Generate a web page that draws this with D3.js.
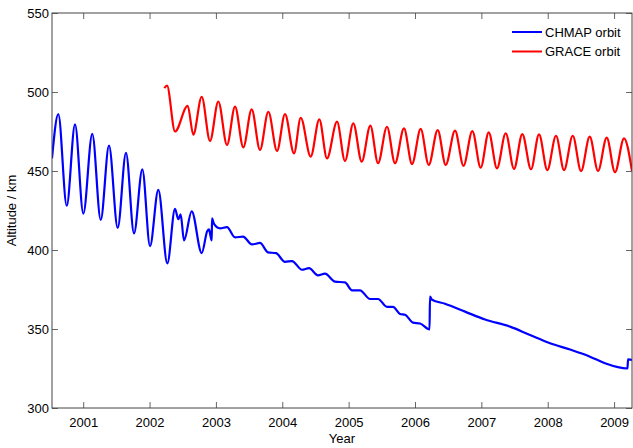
<!DOCTYPE html>
<html><head><meta charset="utf-8">
<script src="https://cdn.jsdelivr.net/npm/d3@7"></script>
<style>body{margin:0;background:#fff}svg{display:block}</style>
</head><body>
<script>
const chmapYears = [2000.530,2000.625,2000.752,2000.877,2001.002,2001.137,2001.264,2001.389,2001.520,2001.645,2001.766,2001.891,2002.007,2002.132,2002.268,2002.384,2002.433,2002.469,2002.519,2002.635,2002.786,2002.870,2002.896,2002.918,2002.937,2002.941,2002.971,2003.062,2003.167,2003.288,2003.408,2003.544,2003.664,2003.785,2003.906,2004.041,2004.147,2004.297,2004.403,2004.538,2004.644,2004.795,2004.945,2005.051,2005.171,2005.322,2005.443,2005.578,2005.669,2005.774,2005.850,2005.970,2006.076,2006.219,2006.226,2006.256,2006.452,2006.754,2007.055,2007.432,2007.733,2008.035,2008.336,2008.637,2008.863,2009.202,2009.210,2009.270];
const chmapAlt = [458,486,428,479.5,423,473.5,419,466,414,461.5,410.5,451,402.5,438,391.5,426,419.5,422.5,406,424.5,398,412,413,409,406,420,416.5,413.7,414.5,408,408.5,403.5,404.5,398.5,398,392.5,393,387.5,388.5,384,385,380,379.5,374.5,374.5,369,369,364,364,359.5,359,354,353.5,349.8,370.5,368.5,366,361,356,351.5,346.2,341,337,332.5,328.3,325,330.8,330.5];
const graceYears = [2002.222,2002.263,2002.384,2002.575,2002.659,2002.786,2002.911,2003.036,2003.167,2003.288,2003.413,2003.539,2003.664,2003.790,2003.921,2004.041,2004.177,2004.278,2004.428,2004.558,2004.674,2004.825,2004.945,2005.070,2005.197,2005.327,2005.443,2005.578,2005.699,2005.834,2005.955,2006.086,2006.207,2006.342,2006.463,2006.603,2006.731,2006.864,2006.990,2007.111,2007.236,2007.367,2007.492,2007.617,2007.748,2007.869,2007.994,2008.125,2008.246,2008.377,2008.502,2008.633,2008.758,2008.889,2009.014,2009.150,2009.270];
const graceAlt = [502.5,504,475,491.3,473,497,469,494,466.5,490.7,465,489,463.3,487.5,462.7,486,461.2,483.7,459.1,482.7,458,481.2,456.3,480.2,455.9,478.7,454.9,478,454.9,477,454.4,476.6,453.8,475.9,453.8,475.6,453.3,475.3,452.1,474.5,451.7,473.9,451.3,473.4,451.1,473.2,450.6,472.3,450.6,472.3,450,471.7,450,471.1,449.2,470.7,450];
const xTicks = [2001,2002,2003,2004,2005,2006,2007,2008,2009];
const yTicks = [300,350,400,450,500,550];
const seriesNames = ["CHMAP orbit","GRACE orbit"];
const seriesColors = ["#0000ff","#ff0000"];

const W = 633, H = 448;
const L = 52, R = 632, T = 13, B = 408;
const font = "'Liberation Sans', Arial, sans-serif";
const svg = d3.select("body").append("svg").attr("width", W).attr("height", H);
const x = d3.scaleLinear().domain([2000.53, 2009.27]).range([L, R]);
const y = d3.scaleLinear().domain([300, 550]).range([B, T]);

const clip = svg.append("clipPath").attr("id","c").append("rect")
  .attr("x", L).attr("y", T).attr("width", R-L).attr("height", B-T);

const line = d3.line().x(d => x(d[0])).y(d => y(d[1])).curve(d3.curveMonotoneX);
const g = svg.append("g").attr("clip-path","url(#c)");
g.append("path").datum(chmapYears.map((v,i)=>[v, chmapAlt[i]]))
  .attr("d", line).attr("fill","none").attr("stroke",seriesColors[0]).attr("stroke-width",2.2);
g.append("path").datum(graceYears.map((v,i)=>[v, graceAlt[i]]))
  .attr("d", line).attr("fill","none").attr("stroke",seriesColors[1]).attr("stroke-width",2.2);

function styleAxis(sel){
  sel.select(".domain").remove();
  sel.selectAll(".tick line").attr("stroke","#666");
  sel.selectAll(".tick text").attr("font-family",font).attr("font-size","13px").attr("fill","#000");
}
svg.append("g").attr("transform",`translate(0,${B})`)
  .call(d3.axisBottom(x).tickValues(xTicks).tickFormat(d3.format("d")).tickSizeInner(-6).tickSizeOuter(0).tickPadding(10))
  .call(styleAxis);
svg.append("g").attr("transform",`translate(0,${T})`)
  .call(d3.axisTop(x).tickValues(xTicks).tickFormat("").tickSizeInner(-6).tickSizeOuter(0))
  .call(styleAxis);
svg.append("g").attr("transform",`translate(${L},0)`)
  .call(d3.axisLeft(y).tickValues(yTicks).tickFormat(d3.format("d")).tickSizeInner(-6).tickSizeOuter(0).tickPadding(3))
  .call(styleAxis);
svg.append("g").attr("transform",`translate(${R},0)`)
  .call(d3.axisRight(y).tickValues(yTicks).tickFormat("").tickSizeInner(-6).tickSizeOuter(0))
  .call(styleAxis);

svg.append("rect").attr("x",L).attr("y",T).attr("width",R-L).attr("height",B-T)
  .attr("fill","none").attr("stroke","#444").attr("stroke-width",1);

svg.append("text").attr("x",(L+R)/2).attr("y",443).attr("text-anchor","middle")
  .attr("font-family",font).attr("font-size","13px").text("Year");
svg.append("text").attr("transform",`translate(16,${(T+B)/2}) rotate(-90)`).attr("text-anchor","middle")
  .attr("font-family",font).attr("font-size","13px").text("Altitude / km");

const leg = svg.append("g");
seriesNames.forEach((n,i)=>{
  const yy = 32 + i*19.5;
  leg.append("line").attr("x1",512).attr("x2",542).attr("y1",yy).attr("y2",yy)
    .attr("stroke",seriesColors[i]).attr("stroke-width",2);
  leg.append("text").attr("x",545).attr("y",yy+4.5).attr("font-family",font).attr("font-size","13px").text(n);
});
</script>
</body></html>
